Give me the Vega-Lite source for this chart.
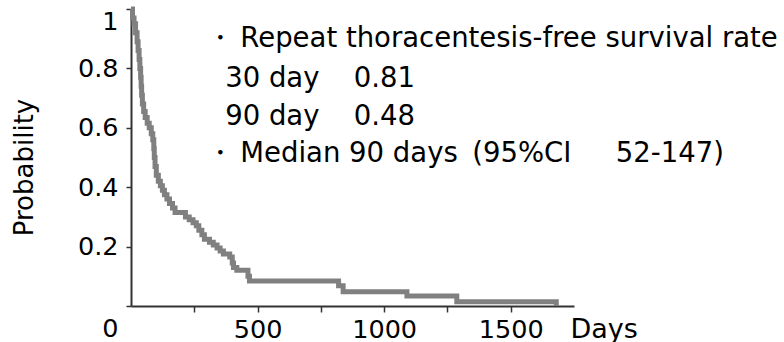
{
  "$schema": "https://vega.github.io/schema/vega-lite/v6.json",
  "width": 443,
  "height": 297,
  "autosize": {"type": "none"},
  "padding": {"left": 131, "top": 9, "right": 210, "bottom": 36},
  "background": "white",
  "config": {"view": {"stroke": null}, "font": "DejaVu Sans"},
  "datasets": {
    "km": [
      {"day": 0, "prob": 1.0}, {"day": 6, "prob": 0.97}, {"day": 12, "prob": 0.95}, {"day": 18, "prob": 0.92},
      {"day": 24, "prob": 0.89}, {"day": 28, "prob": 0.86}, {"day": 32, "prob": 0.83}, {"day": 35, "prob": 0.8},
      {"day": 38, "prob": 0.77}, {"day": 40, "prob": 0.74}, {"day": 42, "prob": 0.71}, {"day": 45, "prob": 0.68},
      {"day": 50, "prob": 0.655}, {"day": 56, "prob": 0.635}, {"day": 64, "prob": 0.615}, {"day": 72, "prob": 0.6},
      {"day": 80, "prob": 0.58}, {"day": 86, "prob": 0.56}, {"day": 90, "prob": 0.53}, {"day": 92, "prob": 0.5},
      {"day": 95, "prob": 0.47}, {"day": 100, "prob": 0.44}, {"day": 108, "prob": 0.42}, {"day": 116, "prob": 0.405},
      {"day": 124, "prob": 0.39}, {"day": 132, "prob": 0.375}, {"day": 142, "prob": 0.36}, {"day": 152, "prob": 0.345},
      {"day": 164, "prob": 0.33}, {"day": 174, "prob": 0.315}, {"day": 215, "prob": 0.3}, {"day": 230, "prob": 0.29},
      {"day": 245, "prob": 0.28}, {"day": 258, "prob": 0.27}, {"day": 268, "prob": 0.255}, {"day": 280, "prob": 0.24},
      {"day": 290, "prob": 0.225}, {"day": 310, "prob": 0.215}, {"day": 325, "prob": 0.205}, {"day": 340, "prob": 0.195},
      {"day": 352, "prob": 0.185}, {"day": 365, "prob": 0.175}, {"day": 390, "prob": 0.165}, {"day": 400, "prob": 0.145},
      {"day": 405, "prob": 0.13}, {"day": 418, "prob": 0.12}, {"day": 462, "prob": 0.1}, {"day": 468, "prob": 0.084},
      {"day": 820, "prob": 0.068}, {"day": 838, "prob": 0.048}, {"day": 1090, "prob": 0.034}, {"day": 1287, "prob": 0.014},
      {"day": 1680, "prob": 0.0}
    ],
    "notes": [
      {"day": 432, "prob": 0.872, "label": "Repeat thoracentesis-free survival rate"},
      {"day": 372, "prob": 0.737, "label": "30 day"},
      {"day": 880, "prob": 0.737, "label": "0.81"},
      {"day": 372, "prob": 0.609, "label": "90 day"},
      {"day": 880, "prob": 0.609, "label": "0.48"},
      {"day": 432, "prob": 0.485, "label": "Median 90 days"},
      {"day": 1348, "prob": 0.485, "label": "(95%CI"},
      {"day": 1915, "prob": 0.485, "label": "52-147)"}
    ],
    "bullets": [
      {"day": 352, "prob": 0.872, "label": "・"},
      {"day": 352, "prob": 0.485, "label": "・"}
    ]
  },
  "layer": [
    {
      "data": {"name": "km"},
      "mark": {"type": "line", "interpolate": "step-after", "color": "#808080", "strokeWidth": 5},
      "encoding": {
        "x": {
          "field": "day", "type": "quantitative",
          "scale": {"domain": [0, 1750], "nice": false, "zero": false},
          "axis": {
            "title": "Days",
            "values": [250, 500, 750, 1000, 1250, 1500],
            "labelExpr": "datum.value % 500 == 0 ? format(datum.value, 'd') : ''",
            "grid": false,
            "tickSize": 6, "tickWidth": 1.5, "tickColor": "#333",
            "domainColor": "#333", "domainWidth": 2,
            "labelFont": "DejaVu Sans", "labelFontSize": 25.5, "labelColor": "black", "labelPadding": 5,
            "labelFlush": false, "labelOverlap": false, "labelBound": false,
            "titleFont": "DejaVu Sans", "titleFontSize": 27, "titleFontWeight": "normal", "titleColor": "black",
            "titleX": 439, "titleY": 31, "titleAlign": "left", "titleAnchor": "start", "titleBaseline": "alphabetic"
          }
        },
        "y": {
          "field": "prob", "type": "quantitative",
          "scale": {"domain": [0, 1], "nice": false},
          "axis": {
            "title": "Probability",
            "values": [0, 0.1, 0.2, 0.3, 0.4, 0.5, 0.6, 0.7, 0.8, 0.9, 1],
            "labelExpr": "datum.value == 0 ? '0' : (abs(datum.value * 5 - round(datum.value * 5)) < 0.01 ? format(datum.value, '~g') : '')",
            "grid": false,
            "tickSize": 5, "tickWidth": 1.5, "tickColor": "#333",
            "domainColor": "#333", "domainWidth": 2,
            "labelFont": "DejaVu Sans", "labelFontSize": 25.5, "labelColor": "black", "labelPadding": 8,
            "labelFlush": false, "labelOverlap": false, "labelBound": false,
            "labelBaseline": {"condition": {"test": "datum.value >= 0.99", "value": "top"}, "value": "middle"},
            "labelOffset": {"condition": {"test": "datum.value == 0", "value": 22}, "value": 0},
            "titleFont": "DejaVu Sans", "titleFontSize": 26, "titleFontWeight": "normal", "titleColor": "black",
            "titleAngle": 270, "titleX": -107, "titleY": 158, "titleAlign": "center", "titleBaseline": "middle"
          }
        }
      }
    },
    {
      "data": {"name": "notes"},
      "mark": {"type": "text", "align": "left", "baseline": "alphabetic", "font": "DejaVu Sans", "fontSize": 27.5, "color": "black"},
      "encoding": {
        "x": {"field": "day", "type": "quantitative"},
        "y": {"field": "prob", "type": "quantitative"},
        "text": {"field": "label"}
      }
    },
    {
      "data": {"name": "bullets"},
      "mark": {"type": "text", "align": "center", "baseline": "alphabetic", "font": "DejaVu Sans", "fontSize": 27.5, "color": "black"},
      "encoding": {
        "x": {"field": "day", "type": "quantitative"},
        "y": {"field": "prob", "type": "quantitative"},
        "text": {"field": "label"}
      }
    }
  ]
}
